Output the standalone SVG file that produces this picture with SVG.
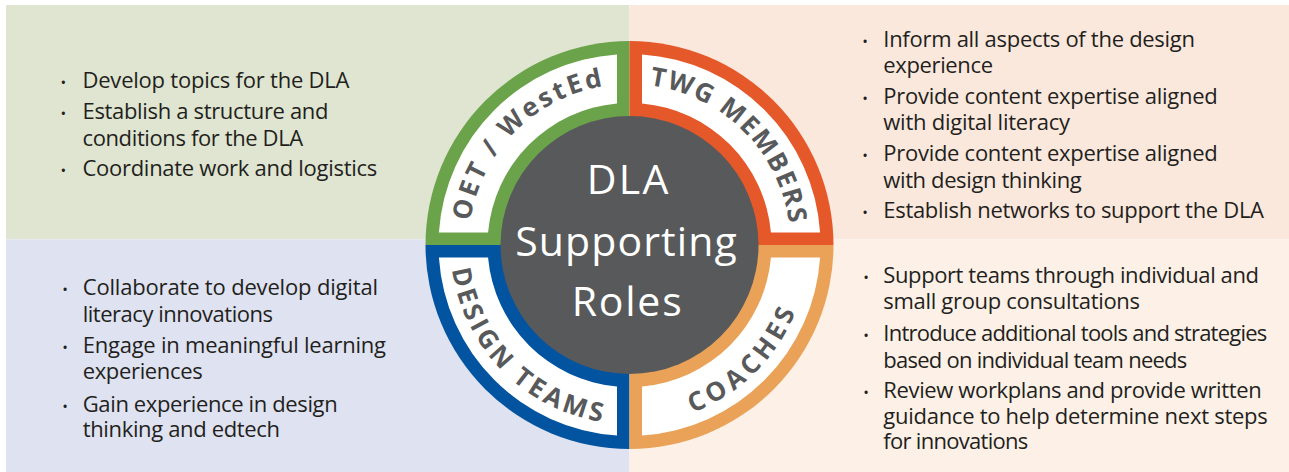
<svg xmlns="http://www.w3.org/2000/svg" xmlns:xlink="http://www.w3.org/1999/xlink" width="1289" height="472" viewBox="0 0 1289 472">
  <style>
    .body { font-family: "Open Sans", "Liberation Sans", sans-serif; font-size: 22px; font-weight: 500; fill: #231F20; }
    .dot { font-family: "Open Sans", "Liberation Sans", sans-serif; font-size: 15px; fill: #231F20; text-anchor: middle; }
    .role { font-family: "Open Sans", "Liberation Sans", sans-serif; font-size: 26px; font-weight: 700; fill: #58595B; text-anchor: middle; }
    .hub { font-family: "Open Sans", "Liberation Sans", sans-serif; font-size: 41px; fill: #FFFFFF; text-anchor: middle; }
    .band { fill: #FFFFFF; }
  </style>
  <defs>
    <!-- label arcs, centred on the hub -->
    <path id="arc-tl" d="M-161,0 A161,161 0 0 1 0,-161"/>
    <path id="arc-tr" d="M0,-161 A161,161 0 0 1 161,0"/>
    <path id="arc-bl" d="M-179,0 A179,179 0 0 0 0,179"/>
    <path id="arc-br" d="M0,179 A179,179 0 0 0 179,0"/>
  </defs>

  <!-- quadrant backgrounds -->
  <g id="background">
    <rect x="6" y="5" width="623.5" height="234.5" fill="#DFE5D1"/>
    <rect x="629.5" y="5" width="659.5" height="234.5" fill="#FBE8DD"/>
    <rect x="6" y="239.5" width="623.5" height="232.5" fill="#DFE2F0"/>
    <rect x="629.5" y="239.5" width="659.5" height="232.5" fill="#FDF1E7"/>
  </g>

  <!-- OET / WestEd -->
  <g id="node-oet-wested">
    <g transform="translate(629.5,245)">
      <path d="M0,0 V-204 A204,204 0 0 0 -204,0 Z" fill="#6BA34B"/>
      <path class="band" d="M-12.5,-190.59 A191,191 0 0 0 -190.59,-12.5 L-141.45,-12.5 A142,142 0 0 1 -12.5,-141.45 Z"/>
      <text class="role" letter-spacing="2.9"><textPath xlink:href="#arc-tl" href="#arc-tl" startOffset="50%">OET / WestEd</textPath></text>
    </g>
    <text class="dot" x="63.3" y="88">•</text>
    <text class="body" x="82.5" y="88" textLength="267">Develop topics for the DLA</text>
    <text class="dot" x="63.3" y="119">•</text>
    <text class="body" x="82.5" y="119" textLength="246">Establish a structure and</text>
    <text class="body" x="82.5" y="146" textLength="220.7">conditions for the DLA</text>
    <text class="dot" x="63.3" y="176">•</text>
    <text class="body" x="82.5" y="176" textLength="294.7">Coordinate work and logistics</text>
  </g>

  <!-- TWG Members -->
  <g id="node-twg-members">
    <g transform="translate(629.5,245)">
      <path d="M0,0 H204 A204,204 0 0 0 0,-204 Z" fill="#E5582A"/>
      <path class="band" d="M190.59,-12.5 A191,191 0 0 0 12.5,-190.59 L12.5,-141.45 A142,142 0 0 1 141.45,-12.5 Z"/>
      <text class="role" letter-spacing="1.8"><textPath xlink:href="#arc-tr" href="#arc-tr" startOffset="50%">TWG MEMBERS</textPath></text>
    </g>
    <text class="dot" x="865" y="46.5">•</text>
    <text class="body" x="883.3" y="46.5" textLength="311.7">Inform all aspects of the design</text>
    <text class="body" x="883.3" y="73" textLength="109.7">experience</text>
    <text class="dot" x="865" y="103.5">•</text>
    <text class="body" x="883.3" y="103.5" textLength="334.4">Provide content expertise aligned</text>
    <text class="body" x="883.3" y="130" textLength="186.7">with digital literacy</text>
    <text class="dot" x="865" y="161">•</text>
    <text class="body" x="883.3" y="161" textLength="334.4">Provide content expertise aligned</text>
    <text class="body" x="883.3" y="187.5" textLength="198.4">with design thinking</text>
    <text class="dot" x="865" y="218">•</text>
    <text class="body" x="883.3" y="218" textLength="380.7">Establish networks to support the DLA</text>
  </g>

  <!-- Design Teams -->
  <g id="node-design-teams">
    <g transform="translate(629.5,245)">
      <path d="M0,0 H-204 A204,204 0 0 0 0,204 Z" fill="#0254A0"/>
      <path class="band" d="M-190.59,12.5 A191,191 0 0 0 -12.5,190.59 L-12.5,141.45 A142,142 0 0 1 -141.45,12.5 Z"/>
      <text class="role" letter-spacing="3.5"><textPath xlink:href="#arc-bl" href="#arc-bl" startOffset="50%">DESIGN TEAMS</textPath></text>
    </g>
    <text class="dot" x="65" y="295">•</text>
    <text class="body" x="82.7" y="295" textLength="295.3">Collaborate to develop digital</text>
    <text class="body" x="82.7" y="321.7" textLength="190.3">literacy innovations</text>
    <text class="dot" x="65" y="353.3">•</text>
    <text class="body" x="82.7" y="353.3" textLength="303.3">Engage in meaningful learning</text>
    <text class="body" x="82.7" y="379.3" textLength="120">experiences</text>
    <text class="dot" x="65" y="411.7">•</text>
    <text class="body" x="82.7" y="411.7" textLength="255">Gain experience in design</text>
    <text class="body" x="82.7" y="436.7" textLength="197.3">thinking and edtech</text>
  </g>

  <!-- Coaches -->
  <g id="node-coaches">
    <g transform="translate(629.5,245)">
      <path d="M0,0 V204 A204,204 0 0 0 204,0 Z" fill="#E9A257"/>
      <path class="band" d="M12.5,190.59 A191,191 0 0 0 190.59,12.5 L141.45,12.5 A142,142 0 0 1 12.5,141.45 Z"/>
      <text class="role" letter-spacing="4.6"><textPath xlink:href="#arc-br" href="#arc-br" startOffset="50%">COACHES</textPath></text>
    </g>
    <text class="dot" x="866" y="283.3">•</text>
    <text class="body" x="883.3" y="283.3" textLength="375.7">Support teams through individual and</text>
    <text class="body" x="883.3" y="309.3" textLength="256.7">small group consultations</text>
    <text class="dot" x="866" y="341">•</text>
    <text class="body" x="883.3" y="341" textLength="384">Introduce additional tools and strategies</text>
    <text class="body" x="883.3" y="367.7" textLength="304">based on individual team needs</text>
    <text class="dot" x="866" y="397.7">•</text>
    <text class="body" x="883.3" y="397.7" textLength="378.4">Review workplans and provide written</text>
    <text class="body" x="883.3" y="424.3" textLength="384.4">guidance to help determine next steps</text>
    <text class="body" x="883.3" y="449" textLength="145">for innovations</text>
  </g>

  <!-- central hub -->
  <g id="node-hub">
    <circle cx="629.5" cy="245" r="129" fill="#58595B"/>
    <text class="hub" x="627.5" y="194" textLength="81.7">DLA</text>
    <text class="hub" x="626" y="256" textLength="221.7">Supporting</text>
    <text class="hub" x="626.7" y="316" textLength="110">Roles</text>
  </g>
</svg>
